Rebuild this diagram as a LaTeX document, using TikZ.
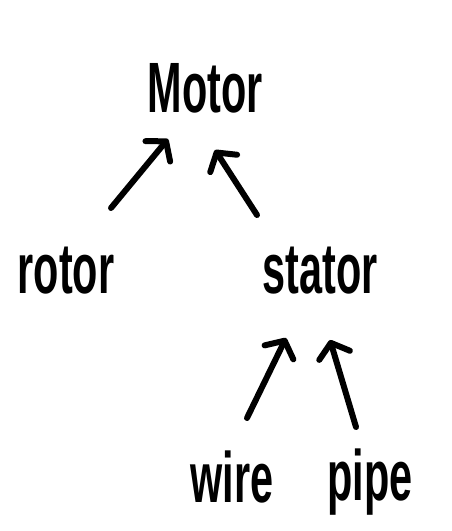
\documentclass[tikz,border=0pt]{standalone}
\usepackage{fontspec}
\setmainfont{Liberation Sans}
\usetikzlibrary{arrows.meta}
\begin{document}
\begin{tikzpicture}[x=1pt,y=-1pt,
  word/.style={anchor=base,inner sep=0pt,font=\fontsize{46}{50}\selectfont\bfseries},
  link/.style={line width=6pt,line cap=round,-{Straight Barb[round,length=13pt,width=32pt]}}]
\useasboundingbox[fill=white] (0,0) rectangle (452,531);
\node[word] (motor) at (205,112) {\scalebox{0.9}[1.55]{Motor}};
\node[word] (rotor) at (66,293) {\scalebox{0.9}[1.55]{rotor}};
\node[word] (stator) at (320,293) {\scalebox{0.9}[1.55]{stator}};
\node[word] (wire) at (232,502) {\scalebox{0.9}[1.55]{wire}};
\node[word] (pipe) at (370,500) {\scalebox{0.9}[1.55]{pipe}};
\draw[link] ([shift={(45,-85)}]rotor.base) -- ([shift={(-37,27)}]motor.base);
\draw[link] ([shift={(-63,-78)}]stator.base) -- ([shift={(10,38)}]motor.base);
\draw[link] ([shift={(15,-84)}]wire.base) -- ([shift={(-34,45)}]stator.base);
\draw[link] ([shift={(-14,-73)}]pipe.base) -- ([shift={(10,47)}]stator.base);
\end{tikzpicture}
\end{document}
